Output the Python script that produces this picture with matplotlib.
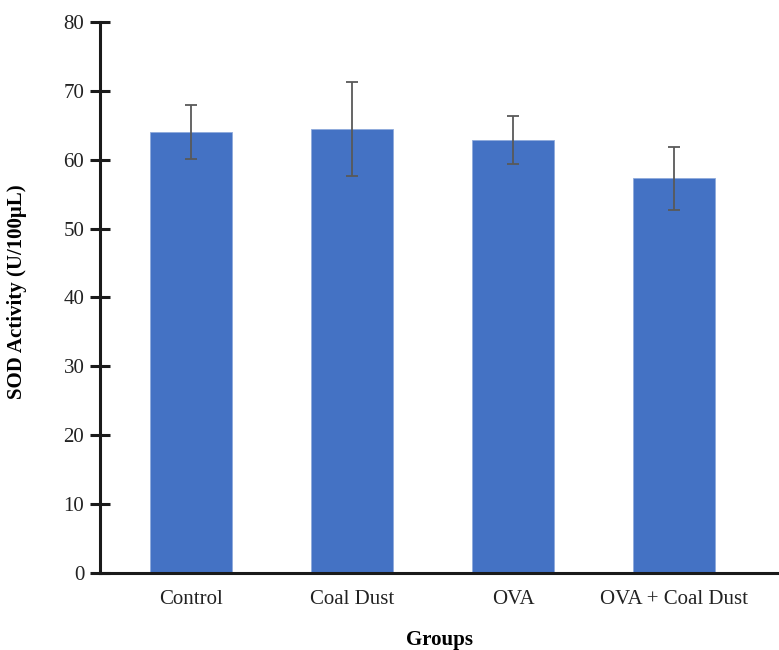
import matplotlib
matplotlib.use("Agg")
import matplotlib.pyplot as plt

groups = ["Control", "Coal Dust", "OVA", "OVA + Coal Dust"]
sod_mean = [64.0, 64.5, 62.9, 57.3]
sod_err = [3.9, 6.8, 3.5, 4.6]
yticks = [0, 10, 20, 30, 40, 50, 60, 70, 80]

plt.rcParams['font.family'] = ['Liberation Serif', 'DejaVu Serif']

fig = plt.figure(figsize=(7.79, 6.5), dpi=100)
ax = fig.add_axes([100/779, 77/650, 679/779, 551/650])

x = list(range(len(groups)))
ax.bar(x, sod_mean, width=0.51, color='#4472C4', edgecolor='#8FAADC', linewidth=0.6,
       yerr=sod_err, error_kw=dict(ecolor='#595959', elinewidth=1.3, capsize=4.5, capthick=1.3))

ax.set_xlim(-0.565, 3.65)
ax.set_ylim(0, 80)
ax.set_yticks(yticks)
ax.set_xticks(x)
ax.set_xticklabels(groups, fontsize=15, color='#222222')
ax.tick_params(axis='x', length=0, pad=12)
ax.tick_params(axis='y', direction='inout', length=14.5, width=2.2, pad=4, labelsize=15,
               labelcolor='#222222', color='#1a1a1a')

for s in ['top', 'right']:
    ax.spines[s].set_visible(False)
for s in ['left', 'bottom']:
    ax.spines[s].set_linewidth(2.2)
    ax.spines[s].set_color('#1a1a1a')

ax.set_ylabel("SOD Activity (U/100μL)", fontsize=15, fontweight='bold')
ax.set_xlabel("Groups", fontsize=15, fontweight='bold', labelpad=15)
ax.yaxis.set_label_coords(-0.107, 0.51)

fig.savefig("out.png", dpi=100)
